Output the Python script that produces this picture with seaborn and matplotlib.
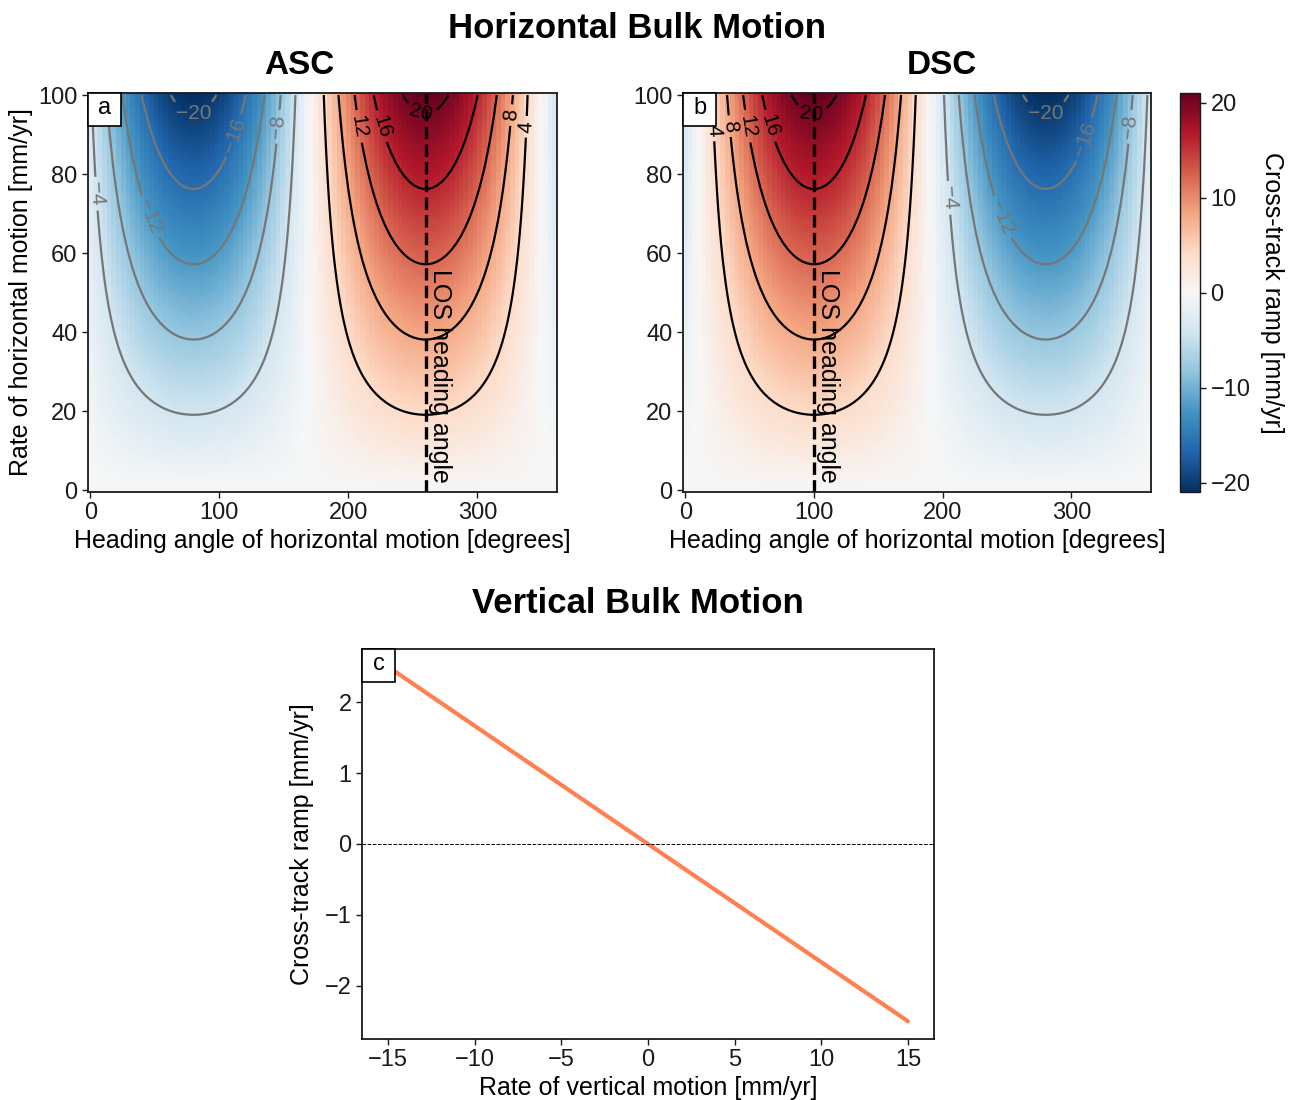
import numpy as np
import matplotlib
matplotlib.use("Agg")
import matplotlib.pyplot as plt
import seaborn as sns
from matplotlib.offsetbox import AnchoredOffsetbox, DrawingArea
from matplotlib.patches import Rectangle
from matplotlib.text import Text

# Horizontal bulk-motion grid: heading angle (deg) and rate (mm/yr)
headings = np.linspace(0, 360, 100)
rates = np.arange(0, 101)
# Line-of-sight heading angle of each track (deg)
track_names = ["ASC", "DSC"]
los_headings = [260, 100]
# Cross-track ramp produced per mm/yr of horizontal motion along the LOS heading
ramp_per_rate = 0.21
neg_levels = [-20, -16, -12, -8, -4]
pos_levels = [4, 8, 12, 16, 20]
cbar_ticks = [-20, -10, 0, 10, 20]

# Vertical bulk motion
vertical_rate = [-15, 15]
vertical_ramp = [2.5, -2.5]

# Where the contour labels sit on each panel
label_spots = {
    "ASC": {"neg": [(80, 95), (109, 90), (144, 92), (3, 75), (44, 69)],
            "pos": [(207, 92), (225, 92), (256, 95), (323, 95), (335, 92)]},
    "DSC": {"neg": [(280, 95), (308, 89), (344, 92), (205, 74), (246, 69)],
            "pos": [(19, 91), (31, 92), (46, 92), (64, 92), (98, 95)]},
}

sns.set_theme(style="ticks")
plt.rcParams["font.family"] = ["Liberation Sans", "DejaVu Sans"]
plt.rcParams.update({
    "axes.edgecolor": "0.1",
    "axes.linewidth": 1.3,
    "xtick.color": "0.1",
    "ytick.color": "0.1",
    "xtick.major.size": 4,
    "ytick.major.size": 4,
    "xtick.major.width": 1.0,
    "ytick.major.width": 1.0,
    "xtick.labelsize": 17,
    "ytick.labelsize": 17,
    "axes.labelsize": 18,
    "text.color": "black",
    "axes.labelcolor": "black",
})

fig = plt.figure(figsize=(13.02, 11), dpi=100)
ax_a = fig.add_axes([0.0676, 0.5527, 0.3602, 0.3627])
ax_b = fig.add_axes([0.5246, 0.5527, 0.3594, 0.3627])
cax = fig.add_axes([0.9063, 0.5527, 0.0154, 0.3627])
ax_c = fig.add_axes([0.278, 0.0555, 0.4393, 0.3545])

H, R = np.meshgrid(headings, rates)
vmax = ramp_per_rate * rates.max()


def minus_fmt(v):
    return f"{v:.0f}".replace("-", "\u2212")


def panel_tag(ax, letter):
    side = 24  # points
    da = DrawingArea(side, side, 0, 0)
    da.add_artist(Rectangle((0, 0), side, side, fc="white", ec="black", lw=1.2))
    da.add_artist(Text(side / 2, side / 2 + 1, letter, ha="center", va="center",
                       fontsize=17, color="black",
                       fontfamily=["Liberation Sans", "DejaVu Sans"]))
    box = AnchoredOffsetbox(loc="upper left", child=da, pad=0, borderpad=0,
                            frameon=False)
    box.set_zorder(10)
    ax.add_artist(box)


mesh = None
for ax, name, los, letter in zip([ax_a, ax_b], track_names, los_headings, ["a", "b"]):
    ramp = ramp_per_rate * R * np.cos(np.deg2rad(H - los))
    mesh = ax.pcolormesh(headings, rates, ramp, cmap="RdBu_r", shading="nearest",
                         vmin=-vmax, vmax=vmax, rasterized=True)
    cn = ax.contour(headings, rates, ramp, levels=neg_levels, colors="#767676",
                    linewidths=1.6, linestyles="solid")
    cp = ax.contour(headings, rates, ramp, levels=pos_levels, colors="black",
                    linewidths=1.6, linestyles="solid")
    ax.clabel(cn, fmt=minus_fmt, fontsize=15, inline=True,
              manual=label_spots[name]["neg"])
    ax.clabel(cp, fmt=minus_fmt, fontsize=15, inline=True,
              manual=label_spots[name]["pos"])
    ax.axvline(los, color="black", ls="--", lw=2.4)
    ax.text(los + 1.5, 56, "LOS heading angle", rotation=270, ha="left", va="top",
            fontsize=18)
    ax.set_xticks([0, 100, 200, 300])
    ax.set_yticks([0, 20, 40, 60, 80, 100])
    ax.set_xlabel("Heading angle of horizontal motion [degrees]", labelpad=3)
    panel_tag(ax, letter)

ax_a.set_ylabel("Rate of horizontal motion [mm/yr]", labelpad=4)

cb = fig.colorbar(mesh, cax=cax, ticks=cbar_ticks)
cb.outline.set_linewidth(1.0)
cb.set_label("Cross-track ramp [mm/yr]", rotation=270, labelpad=24, fontsize=18)
cax.tick_params(labelsize=17, size=4)

# Vertical bulk motion panel
sns.lineplot(x=vertical_rate, y=vertical_ramp, ax=ax_c, color="#ff7f50", lw=3)
ax_c.axhline(0, color="black", ls="--", lw=0.7)
ax_c.set_xticks([-15, -10, -5, 0, 5, 10, 15])
ax_c.set_yticks([-2, -1, 0, 1, 2])
ax_c.set_xlabel("Rate of vertical motion [mm/yr]", labelpad=3)
ax_c.set_ylabel("Cross-track ramp [mm/yr]", labelpad=8)
panel_tag(ax_c, "c")

fig.text(0.4893, 0.9745, "Horizontal Bulk Motion", ha="center", va="center",
         fontsize=25, fontweight="bold")
fig.text(0.2296, 0.9405, "ASC", ha="center", va="center", fontsize=24, fontweight="bold")
fig.text(0.7231, 0.9405, "DSC", ha="center", va="center", fontsize=24, fontweight="bold")
fig.text(0.4900, 0.4510, "Vertical Bulk Motion", ha="center", va="center",
         fontsize=25, fontweight="bold")

fig.savefig("out.png", dpi=100)
